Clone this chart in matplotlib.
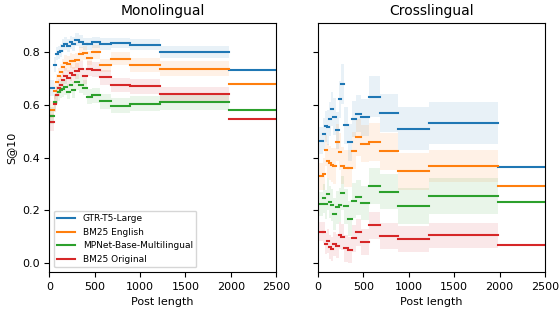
import matplotlib
matplotlib.use("Agg")
import matplotlib.pyplot as plt

# post length bins (shared by both panels)
bin_edges = [0, 55, 78, 100, 122, 144, 166, 194, 227, 255, 288, 332, 371,
             421, 476, 559, 681, 886, 1218, 1985, 2500]

models = ["GTR-T5-Large", "BM25 English", "MPNet-Base-Multilingual", "BM25 Original"]
colors = ["#1f77b4", "#ff7f0e", "#2ca02c", "#d62728"]

# Monolingual S@10 per bin
mono_gtr = [0.664, 0.751, 0.794, 0.799, 0.805, 0.824, 0.831, 0.823, 0.836, 0.830,
            0.847, 0.839, 0.830, 0.831, 0.836, 0.830, 0.834, 0.828, 0.800, 0.733]
mono_bm25_en = [0.581, 0.651, 0.685, 0.708, 0.723, 0.743, 0.758, 0.755, 0.767, 0.765,
                0.768, 0.792, 0.796, 0.777, 0.800, 0.749, 0.775, 0.751, 0.737, 0.679]
mono_mpnet = [0.559, 0.609, 0.636, 0.648, 0.657, 0.660, 0.667, 0.650, 0.674, 0.657,
              0.685, 0.676, 0.665, 0.630, 0.636, 0.613, 0.597, 0.604, 0.609, 0.579]
mono_bm25_orig = [0.533, 0.604, 0.638, 0.664, 0.676, 0.695, 0.708, 0.701, 0.720, 0.713,
                  0.727, 0.736, 0.708, 0.736, 0.733, 0.704, 0.676, 0.670, 0.640, 0.547]

# half width of the shaded band (last bin has no band)
mono_gtr_ci = [0.030, 0.028, 0.025, 0.025, 0.025, 0.025, 0.025, 0.025, 0.025, 0.025,
               0.025, 0.024, 0.022, 0.022, 0.022, 0.022, 0.020, 0.020, 0.022]
mono_bm25_en_ci = [0.032, 0.030, 0.030, 0.030, 0.030, 0.030, 0.030, 0.030, 0.028, 0.028,
                   0.028, 0.028, 0.028, 0.028, 0.026, 0.026, 0.026, 0.026, 0.027]
mono_mpnet_ci = [0.032, 0.032, 0.032, 0.032, 0.032, 0.032, 0.032, 0.030, 0.030, 0.030,
                 0.030, 0.030, 0.030, 0.028, 0.028, 0.028, 0.028, 0.028, 0.028]
mono_bm25_orig_ci = [0.032, 0.032, 0.032, 0.032, 0.032, 0.032, 0.030, 0.030, 0.030, 0.030,
                     0.030, 0.030, 0.030, 0.028, 0.028, 0.028, 0.026, 0.028, 0.029]

# Crosslingual S@10 per bin
cross_gtr = [0.464, 0.490, 0.518, 0.514, 0.547, 0.584, 0.555, 0.503, 0.620, 0.677,
             0.522, 0.458, 0.546, 0.566, 0.552, 0.630, 0.569, 0.509, 0.531, 0.363]
cross_bm25_en = [0.329, 0.339, 0.427, 0.386, 0.380, 0.372, 0.369, 0.458, 0.422, 0.369,
                 0.359, 0.359, 0.425, 0.477, 0.453, 0.458, 0.424, 0.348, 0.369, 0.294]
cross_mpnet = [0.225, 0.246, 0.223, 0.262, 0.233, 0.220, 0.186, 0.211, 0.220, 0.266,
               0.215, 0.169, 0.237, 0.249, 0.227, 0.294, 0.271, 0.215, 0.253, 0.230]
cross_bm25_orig = [0.120, 0.117, 0.074, 0.083, 0.061, 0.055, 0.073, 0.065, 0.105, 0.100,
                   0.056, 0.051, 0.094, 0.117, 0.080, 0.143, 0.103, 0.093, 0.105, 0.069]

cross_gtr_ci = [0.050, 0.060, 0.060, 0.065, 0.065, 0.065, 0.070, 0.070, 0.070, 0.076,
                0.070, 0.070, 0.070, 0.070, 0.070, 0.077, 0.072, 0.081, 0.078]
cross_bm25_en_ci = [0.050, 0.060, 0.060, 0.065, 0.065, 0.065, 0.068, 0.070, 0.070, 0.070,
                    0.070, 0.070, 0.070, 0.070, 0.070, 0.072, 0.070, 0.070, 0.061]
cross_mpnet_ci = [0.045, 0.055, 0.055, 0.060, 0.060, 0.060, 0.062, 0.062, 0.065, 0.065,
                  0.065, 0.065, 0.065, 0.065, 0.065, 0.068, 0.066, 0.068, 0.068]
cross_bm25_orig_ci = [0.035, 0.040, 0.040, 0.045, 0.045, 0.045, 0.045, 0.045, 0.050, 0.050,
                      0.050, 0.050, 0.050, 0.050, 0.050, 0.050, 0.050, 0.049, 0.049]

panels = [
    ("Monolingual",
     [mono_gtr, mono_bm25_en, mono_mpnet, mono_bm25_orig],
     [mono_gtr_ci, mono_bm25_en_ci, mono_mpnet_ci, mono_bm25_orig_ci]),
    ("Crosslingual",
     [cross_gtr, cross_bm25_en, cross_mpnet, cross_bm25_orig],
     [cross_gtr_ci, cross_bm25_en_ci, cross_mpnet_ci, cross_bm25_orig_ci]),
]

fig, axes = plt.subplots(1, 2, figsize=(5.6, 3.09), dpi=100, sharey=True)
fig.subplots_adjust(left=0.088, right=0.973, bottom=0.12, top=0.926, wspace=0.185)

for ax, (title, series, cis) in zip(axes, panels):
    for name, color, vals, ci in zip(models, colors, series, cis):
        for i, v in enumerate(vals):
            x0, x1 = bin_edges[i], bin_edges[i + 1]
            if i < len(ci):
                ax.fill_between([x0, x1], v - ci[i], v + ci[i], color=color,
                                alpha=0.1, lw=0)
            ax.plot([x0, x1], [v, v], color=color, lw=1.5,
                    label=name if i == 0 else None)
    ax.set_title(title, fontsize=10)
    ax.set_xlim(0, 2500)
    ax.set_xticks([0, 500, 1000, 1500, 2000, 2500])
    ax.tick_params(labelsize=8)
    ax.set_xlabel("Post length", fontsize=8)

axes[0].set_ylim(-0.033, 0.91)
axes[0].set_yticks([0.0, 0.2, 0.4, 0.6, 0.8])
axes[0].set_ylabel("S@10", fontsize=8)
axes[0].legend(loc="lower left", fontsize=6.5)

fig.savefig("out.png")
